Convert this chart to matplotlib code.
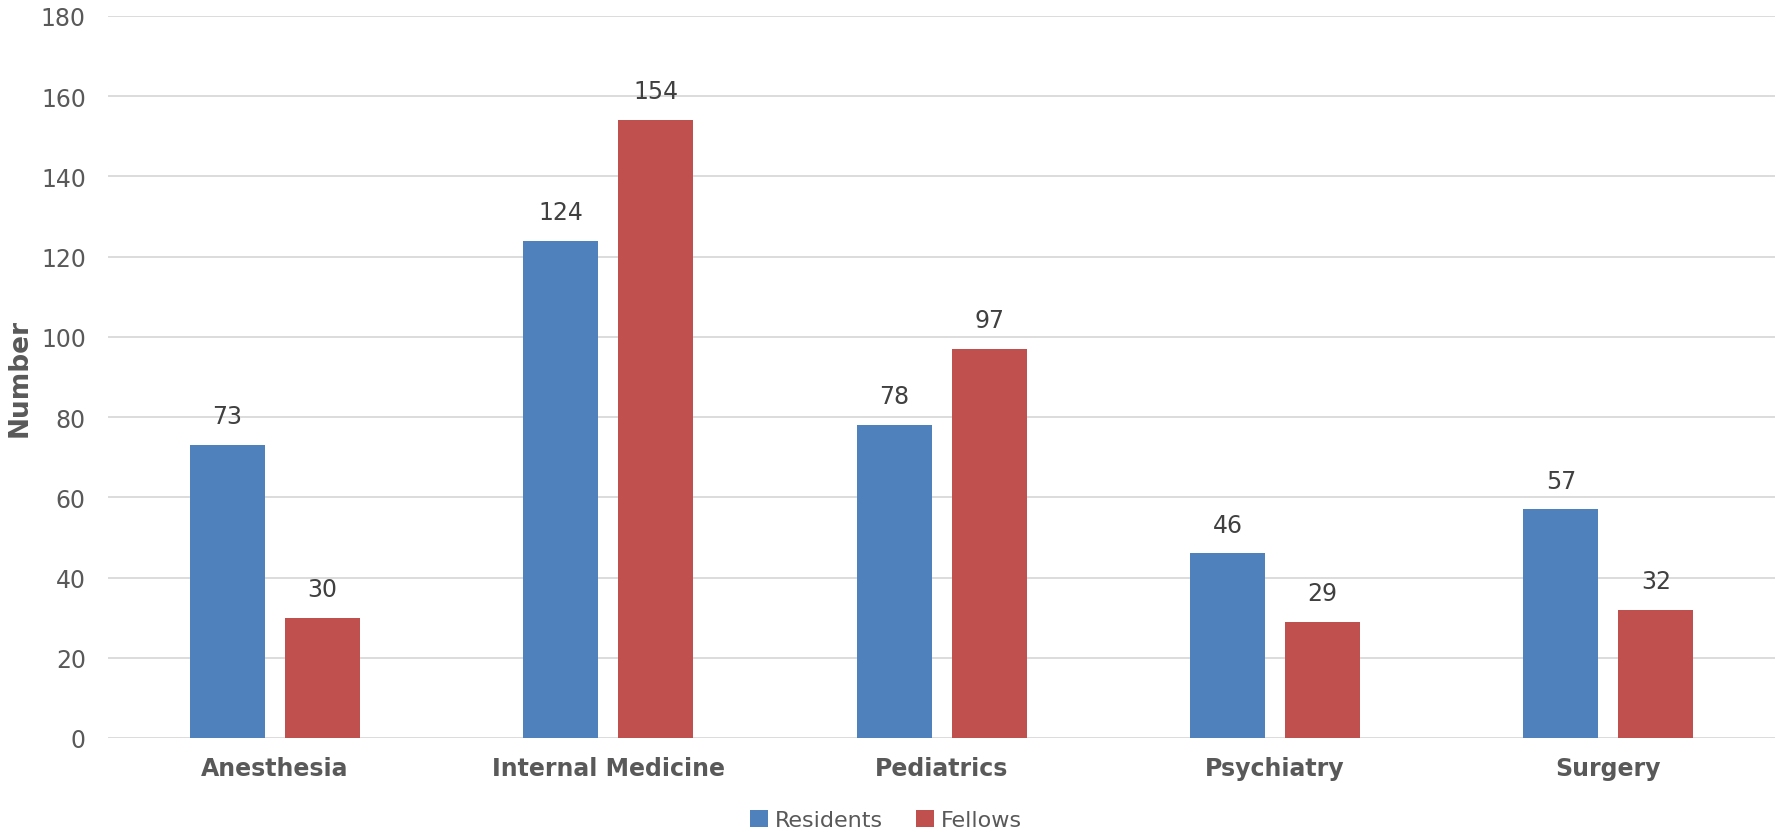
import numpy as np
import matplotlib.pyplot as plt

categories = ["Anesthesia", "Internal Medicine", "Pediatrics", "Psychiatry", "Surgery"]
residents = [73, 124, 78, 46, 57]
fellows = [30, 154, 97, 29, 32]
yticks = [0, 20, 40, 60, 80, 100, 120, 140, 160, 180]

blue = "#4F81BD"
red = "#C0504D"
grey = "#595959"

fig = plt.figure(figsize=(17.83, 8.37), dpi=100)
ax = fig.add_axes([0.0606, 0.1171, 0.935, 0.8626])

x = np.arange(len(categories))
w = 0.225
off = 0.1425
b1 = ax.bar(x - off, residents, w, color=blue, label="Residents", zorder=3)
b2 = ax.bar(x + off, fellows, w, color=red, label="Fellows", zorder=3)

for bars, vals in ((b1, residents), (b2, fellows)):
    for rect, v in zip(bars, vals):
        ax.text(rect.get_x() + rect.get_width() / 2, v + 4.2, str(v),
                ha="center", va="bottom", fontsize=17, color="#404040")

ax.set_xlim(-0.5, len(categories) - 0.5)
ax.set_ylim(0, 180)
ax.set_yticks(yticks)
ax.yaxis.grid(True, color="#D9D9D9", linewidth=1.3, zorder=0)
ax.set_axisbelow(True)
for s in ax.spines.values():
    s.set_visible(False)
ax.tick_params(axis="both", length=0)
ax.tick_params(axis="y", labelsize=17, labelcolor=grey, pad=16)
ax.set_xticks(x)
ax.set_xticklabels(categories, fontsize=17, fontweight="bold", color=grey)
ax.tick_params(axis="x", pad=13)
ax.set_ylabel("Number", fontsize=19, fontweight="bold", color=grey)
ax.yaxis.set_label_coords(-0.045, 0.5)

leg = fig.legend(loc="center", bbox_to_anchor=(0.497, 0.019), ncol=2, frameon=False,
                 fontsize=16, handlelength=0.8, handleheight=0.8, handletextpad=0.3,
                 columnspacing=1.5)
for t in leg.get_texts():
    t.set_color(grey)

fig.savefig("out.png", dpi=100)
